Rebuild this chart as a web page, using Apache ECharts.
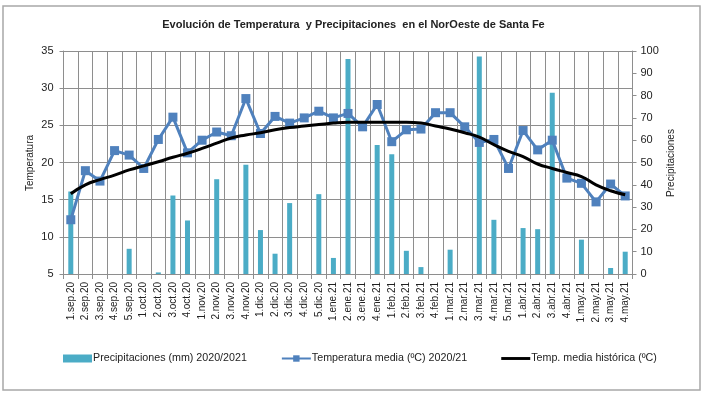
<!DOCTYPE html>
<html>
<head>
<meta charset="utf-8">
<script src="https://cdn.jsdelivr.net/npm/echarts@6/dist/echarts.min.js"></script>
<style>
  html, body { margin: 0; padding: 0; background: #fff; }
  #chart { width: 707px; height: 397px; }
</style>
</head>
<body>
<div id="chart"></div>
<script>
let weeks = [
  "1.sep.20", "2.sep.20", "3.sep.20", "4.sep.20", "5.sep.20",
  "1.oct.20", "2.oct.20", "3.oct.20", "4.oct.20",
  "1.nov.20", "2.nov.20", "3.nov.20", "4.nov.20",
  "1.dic.20", "2.dic.20", "3.dic.20", "4.dic.20", "5.dic.20",
  "1.ene.21", "2.ene.21", "3.ene.21", "4.ene.21",
  "1.feb.21", "2.feb.21", "3.feb.21", "4.feb.21",
  "1.mar.21", "2.mar.21", "3.mar.21", "4.mar.21", "5.mar.21",
  "1.abr.21", "2.abr.21", "3.abr.21", "4.abr.21",
  "1.may.21", "2.may.21", "3.may.21", "4.may.21"
];

// precipitaciones (mm) por semana
let precip = [
  37, 0, 0, 0, 11.3,
  0, 0.7, 35.2, 24,
  0, 42.5, 0, 49,
  19.7, 9.1, 31.8, 0, 35.8,
  7.2, 96.4, 0, 57.9,
  53.7, 10.4, 3.1, 0,
  10.9, 0, 97.5, 24.3, 0,
  20.6, 20.1, 81.3, 0,
  15.4, 0, 2.7, 10
];

// temperatura media 2020/21
let tempMedia = [
  12.3, 18.9, 17.5, 21.6, 21.0,
  19.2, 23.1, 26.1, 21.3,
  23.0, 24.1, 23.6, 28.6,
  23.9, 26.2, 25.3, 26.0, 26.9,
  26.0, 26.6, 24.8, 27.8,
  22.8, 24.4, 24.5, 26.7,
  26.7, 24.8, 22.7, 23.1, 19.2,
  24.3, 21.7, 23.0, 17.9,
  17.2, 14.7, 17.1, 15.5
];

// temperatura media historica
let tempHist = [
  15.8, 17.0, 17.7, 18.3, 19.0,
  19.55, 20.1, 20.7, 21.25,
  21.9, 22.6, 23.3, 23.7,
  24.0, 24.4, 24.7, 24.9, 25.1,
  25.3, 25.4, 25.4, 25.4,
  25.4, 25.4, 25.3, 24.9,
  24.5, 24.0, 23.4, 22.4, 21.5,
  20.8, 19.8, 19.2, 18.65,
  18.1, 17.0, 16.2, 15.65
];

let fontFam = "'Liberation Sans', Arial, sans-serif";
let gridColor = "#8e8e8e";

let option = {
  animation: false,
  textStyle: { fontFamily: fontFam },
  title: {
    text: "Evolución de Temperatura  y Precipitaciones  en el NorOeste de Santa Fe",
    left: "center",
    top: 14,
    textStyle: { fontSize: 11, fontWeight: "bold", color: "#222", fontFamily: fontFam }
  },
  graphic: [
    {
      type: "rect",
      shape: { x: 3, y: 6, width: 697, height: 384 },
      style: { fill: "none", stroke: "#a8a8a8", lineWidth: 1.5 },
      z: -1
    },
    // titulos de los ejes verticales
    {
      type: "text",
      x: 30,
      y: 163,
      rotation: Math.PI / 2,
      style: { text: "Temperatura", fontSize: 10, fill: "#222", fontFamily: fontFam, align: "center", verticalAlign: "middle" }
    },
    {
      type: "text",
      x: 671,
      y: 163,
      rotation: Math.PI / 2,
      style: { text: "Precipitaciones", fontSize: 10, fill: "#222", fontFamily: fontFam, align: "center", verticalAlign: "middle" }
    }
  ],
  legend: {
    left: 58,
    top: 348,
    itemWidth: 29,
    itemHeight: 8,
    itemGap: 34,
    textStyle: { fontSize: 10.7, color: "#222", fontFamily: fontFam, padding: [0, 0, 0, -4] },
    data: [
      { name: "Precipitaciones (mm) 2020/2021", icon: "rect" },
      { name: "Temperatura media (ºC) 2020/21" },
      { name: "Temp. media histórica (ºC)", icon: "path://M0,0H30V3H0Z" }
    ]
  },
  grid: { left: 63.5, right: 74.5, top: 51, bottom: 123 },
  xAxis: {
    type: "category",
    data: weeks,
    boundaryGap: true,
    axisLine: { lineStyle: { color: gridColor } },
    axisTick: { show: true, length: 5, lineStyle: { color: gridColor }, interval: 0 },
    splitLine: { show: true, interval: 0, lineStyle: { color: gridColor, width: 1 } },
    axisLabel: { rotate: 90, interval: 0, fontSize: 10, color: "#222", margin: 8 }
  },
  yAxis: [
    {
      type: "value",
      min: 5,
      max: 35,
      interval: 5,
      axisLine: { show: true, lineStyle: { color: gridColor } },
      axisTick: { show: true, length: 4, lineStyle: { color: gridColor } },
      splitLine: { lineStyle: { color: gridColor, width: 1 } },
      axisLabel: { fontSize: 11, color: "#222", margin: 10 }
    },
    {
      type: "value",
      min: 0,
      max: 100,
      interval: 10,
      axisLine: { show: true, lineStyle: { color: gridColor } },
      axisTick: { show: true, length: 4, lineStyle: { color: gridColor } },
      splitLine: { show: false },
      axisLabel: { fontSize: 11, color: "#222", margin: 8 }
    }
  ],
  series: [
    {
      name: "Precipitaciones (mm) 2020/2021",
      type: "bar",
      yAxisIndex: 1,
      data: precip,
      barWidth: 5,
      itemStyle: { color: "#4BACC6" },
      z: 1
    },
    {
      name: "Temperatura media (ºC) 2020/21",
      type: "line",
      yAxisIndex: 0,
      data: tempMedia,
      symbol: "rect",
      symbolSize: 9,
      lineStyle: { color: "#4F81BD", width: 3 },
      itemStyle: { color: "#4F81BD" },
      z: 3
    },
    {
      name: "Temp. media histórica (ºC)",
      type: "line",
      yAxisIndex: 0,
      data: tempHist,
      smooth: true,
      symbol: "none",
      lineStyle: { color: "#000", width: 3 },
      itemStyle: { color: "#000" },
      z: 4
    }
  ]
};

let chart = echarts.init(document.getElementById("chart"));
chart.setOption(option);
</script>
</body>
</html>
